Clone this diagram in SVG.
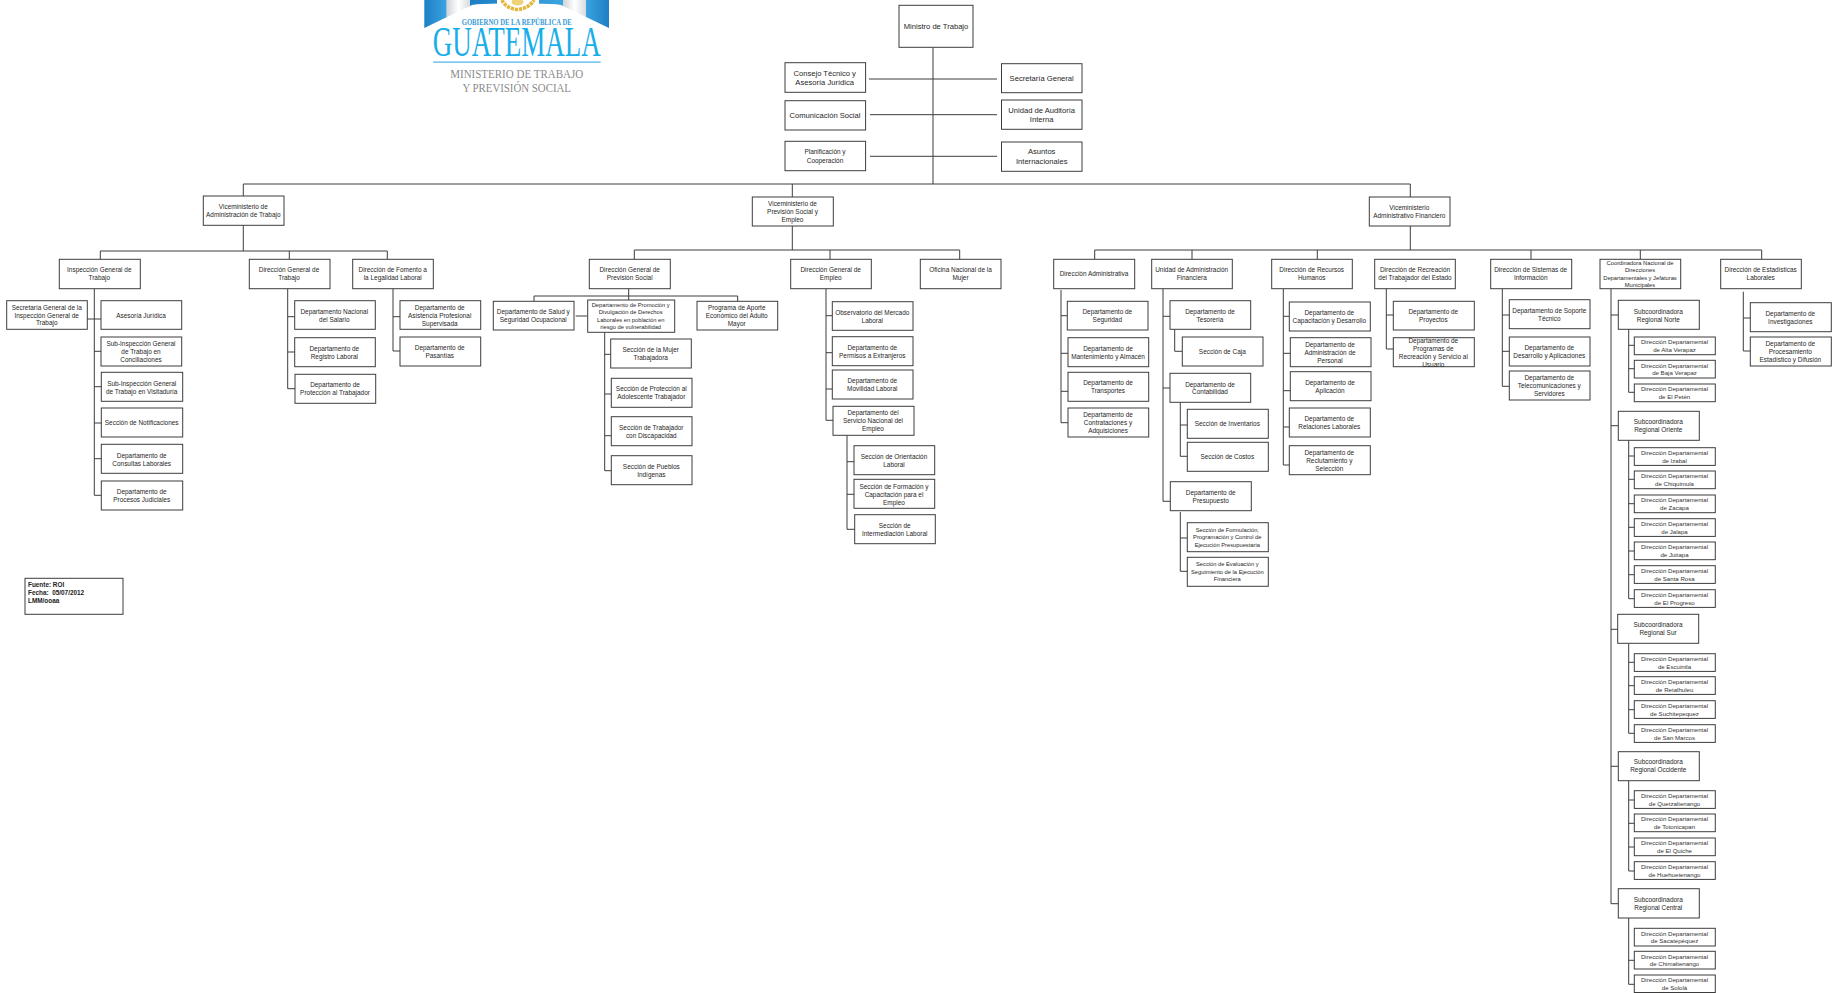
<svg xmlns="http://www.w3.org/2000/svg" width="1834" height="993" viewBox="0 0 1834 993">
<style>
text{font-family:"Liberation Sans",Arial,sans-serif;font-size:6.45px;fill:#262626;text-anchor:middle}
rect.b{fill:#fff;stroke:#3c3c3c;stroke-width:1}
.l7 text,text.l7{font-size:7.6px}
text.s{font-size:5.75px}
text.d{font-size:6.1px;fill:#333}
text.f{font-size:6.4px;font-weight:bold;text-anchor:start;fill:#222}
#connectors path{fill:none;stroke:#3c3c3c;stroke-width:1}
#logo text{font-family:"Liberation Serif","Times New Roman",serif}
</style>
<defs>
<linearGradient id="bl" x1="0" x2="1" y1="0" y2="0"><stop offset="0" stop-color="#1e7fc4"/><stop offset="1" stop-color="#3aa3e0"/></linearGradient>
<linearGradient id="br" x1="1" x2="0" y1="0" y2="0"><stop offset="0" stop-color="#1e7fc4"/><stop offset="1" stop-color="#3aa3e0"/></linearGradient>
<linearGradient id="wl" x1="0" x2="1" y1="0" y2="0"><stop offset="0" stop-color="#cfd3d8"/><stop offset=".5" stop-color="#ffffff"/><stop offset="1" stop-color="#d8dbdf"/></linearGradient>
</defs>
<g id="logo">
<rect x="424.3" y="0" width="22.4" height="28" fill="url(#bl)"/>
<rect x="446.7" y="0" width="23.3" height="28" fill="url(#wl)"/>
<rect x="470" y="0" width="93" height="28" fill="url(#bl)"/>
<rect x="563" y="0" width="23" height="28" fill="url(#wl)"/>
<rect x="586" y="0" width="23" height="28" fill="url(#br)"/>
<path d="M424.3 27.9L472 5Q480 3.5 500 3.5L533 3.5Q553 3.5 561 5L609 27.9L609 30L424.3 30Z" fill="#fff"/>
<rect x="497" y="0" width="42" height="6" fill="#fff"/>
<path d="M502 0C504 5 510 9 517.5 9.5C525 9 531 5 534 0" fill="none" stroke="#e3b63c" stroke-width="3.6" stroke-dasharray="3.2 .9"/>
<ellipse cx="517.5" cy="2" rx="6" ry="3.6" fill="#efd27a"/>
<text x="516.7" y="25.3" textLength="110" lengthAdjust="spacingAndGlyphs" style="font-size:7.6px;font-weight:bold;fill:#3a9bd6">GOBIERNO DE LA REPÚBLICA DE</text>
<text x="516.7" y="55.5" textLength="168" lengthAdjust="spacingAndGlyphs" style="font-size:43px;fill:#18aeea">GUATEMALA</text>
<rect x="433" y="61.5" width="167.7" height="1.2" fill="#48b4e6"/>
<text x="516.7" y="78.3" textLength="133" lengthAdjust="spacingAndGlyphs" style="font-size:13.5px;fill:#8c8c8c">MINISTERIO DE TRABAJO</text>
<text x="516.7" y="91.7" textLength="108.6" lengthAdjust="spacingAndGlyphs" style="font-size:13.5px;fill:#8c8c8c">Y PREVISIÓN SOCIAL</text>
</g>
<g id="connectors">
<path d="M933 47.3V184M869 79H997M870 114.7H997M870 156.3H997M243.3 184H1410.3M243.3 184V196M792.3 184V197M1410.3 184V197"/>
<path d="M243.3 225.3V251M100.3 251H387.3M100.3 251V259.3M289.3 251V259.3M387.3 251V259.3"/>
<path d="M94.3 288.7V495.3H101M85.7 319H103M94.3 351.3H101M94.3 386.7H101.3M94.3 423H101.3M94.3 458.7H101.3"/>
<path d="M287.7 288.7V388.7H295M287.7 316.7H294.7M287.7 352H294.7"/>
<path d="M393 288.7V351H400M393 316.7H400"/>
<path d="M792.3 226V250M634.3 250H959.7M634.3 250V259.3M830 250V259.3M959.7 250V259.3"/>
<path d="M628.7 288.7V300M534 296H737.7M534 296V301.3M737.7 296V301.3M575.7 316H587.7"/>
<path d="M604.7 332.3V470.7H611.3M604.7 354.3H610.7M604.7 394H611.3M604.7 435.7H611.3"/>
<path d="M826 288.7V420.3H833M826 315.7H832.3M826 352.7H832.3M826 389H832.3"/>
<path d="M847 435.3V529.3H854.7M847 461.7H854M847 494.3H854"/>
<path d="M1410.3 226V250M1094.7 250H1761.7M1094.7 250V259.3M1192 250V259.3M1317.3 250V259.3M1531 250V259.3M1640.3 250V259.3M1761.7 250V259.3"/>
<path d="M1061 290V422.7H1068M1061 315.7H1067.3M1061 353.3H1068M1061 391.3H1068"/>
<path d="M1163 288.7V501.3H1170.3M1163 316.3H1170M1163 388H1170"/>
<path d="M1174.7 329.3V351.3H1182.3"/>
<path d="M1180.3 402.3V456.3H1187.3M1180.3 425H1187.3"/>
<path d="M1180.3 512V571.3H1187.3M1180.3 538H1187.3"/>
<path d="M1283.3 288.7V465H1289.3M1283.3 316.3H1289.3M1283.3 353.3H1290.3M1283.3 390.7H1290.3M1283.3 427H1289.3"/>
<path d="M1386.3 286.7V349H1393.3M1386.3 315H1393.3"/>
<path d="M1502.3 288.7V386.3H1509.3M1502.3 315H1509.3M1502.3 351.3H1509.3"/>
<path d="M1743.3 291.7V351H1750.3M1743.3 318H1750.3"/>
<path d="M1611 288.7V903.7H1618.3M1611 315H1618.3M1611 425.7H1618.3M1611 629.3H1617.7M1611 766.3H1618.3"/>
<path d="M1628.7 329.3V392.3H1634.3M1628.7 345.3H1634.3M1628.7 368.7H1634.3"/>
<path d="M1628.7 440.3V598.7H1634.3M1628.7 456H1634.3M1628.7 479.3H1634.3M1628.7 503.7H1634.3M1628.7 527.3H1634.3M1628.7 551H1634.3M1628.7 574.7H1634.3"/>
<path d="M1628.7 643.3V733.3H1634.3M1628.7 662.3H1634.3M1628.7 685.7H1634.3M1628.7 709.7H1634.3"/>
<path d="M1628.7 780.7V871H1634.3M1628.7 800H1634.3M1628.7 823.3H1634.3M1628.7 847H1634.3"/>
<path d="M1628.7 918V984.3H1634.3M1628.7 960.3H1634.3"/>
</g>
<g id="ministro" class="l7"><rect class="b" x="899" y="5.3" width="74" height="42"/><text x="936" y="28.7">Ministro de Trabajo</text></g>
<g id="consejo" class="l7"><rect class="b" x="785" y="62.7" width="80.6" height="29.6"/><text x="824.7" y="75.7">Consejo Técnico y<tspan x="824.7" dy="9">Asesoría Jurídica</tspan></text></g>
<g id="secretaria" class="l7"><rect class="b" x="1001.5" y="63.7" width="80.5" height="29"/><text x="1041.7" y="80.7">Secretaría General</text></g>
<g id="comunicacion" class="l7"><rect class="b" x="785" y="100.7" width="80.6" height="29.3"/><text x="825" y="117.7">Comunicación Social</text></g>
<g id="auditoria" class="l7"><rect class="b" x="1001.5" y="100" width="80.5" height="29.3"/><text x="1041.7" y="112.7">Unidad de Auditoría<tspan x="1041.7" dy="9.3">Interna</tspan></text></g>
<g id="planificacion"><rect class="b" x="785" y="141.3" width="80.6" height="29.4"/><text x="825" y="154.3">Planificación y<tspan x="825" dy="8.3">Cooperación</tspan></text></g>
<g id="asuntos" class="l7"><rect class="b" x="1001.5" y="142" width="80.5" height="29.3"/><text x="1041.7" y="154.4">Asuntos<tspan x="1041.7" dy="9.3">Internacionales</tspan></text></g>

<g id="vice-admin"><rect class="b" x="203.3" y="196" width="80.7" height="29.3"/><text x="243.3" y="209.3">Viceministerio de<tspan x="243.3" dy="8">Administración de Trabajo</tspan></text></g>
<g id="vice-prev"><rect class="b" x="752.3" y="197" width="81" height="29"/><text x="792.5" y="206">Viceministerio de<tspan x="792.5" dy="8">Previsión Social y</tspan><tspan x="792.5" dy="8">Empleo</tspan></text></g>
<g id="vice-fin"><rect class="b" x="1369.3" y="197" width="80.7" height="29"/><text x="1409.3" y="210">Viceministerio<tspan x="1409.3" dy="8">Administrativo Financiero</tspan></text></g>

<g id="inspeccion"><rect class="b" x="59.3" y="259.3" width="81" height="29.4"/><text x="99.3" y="272.3">Inspección General de<tspan x="99.3" dy="8">Trabajo</tspan></text></g>
<g id="dg-trabajo"><rect class="b" x="249.3" y="259.3" width="80.7" height="29.4"/><text x="289" y="272.3">Dirección General de<tspan x="289" dy="8">Trabajo</tspan></text></g>
<g id="fomento"><rect class="b" x="352.7" y="259.3" width="80.6" height="29.4"/><text x="392.7" y="272.3">Dirección de Fomento a<tspan x="392.7" dy="8">la Legalidad Laboral</tspan></text></g>
<g id="sec-insp"><rect class="b" x="6.7" y="300.7" width="80.6" height="28.6"/><text x="46.7" y="309.6">Secretaría General de la<tspan x="46.7" dy="8">Inspección General de</tspan><tspan x="46.7" dy="7.8">Trabajo</tspan></text></g>
<g id="asesoria"><rect class="b" x="101" y="300.7" width="80.7" height="28.6"/><text x="141" y="317.6">Asesoría Jurídica</text></g>
<g id="sub-conc"><rect class="b" x="101" y="337" width="80.7" height="29"/><text x="141" y="346">Sub-Inspección General<tspan x="141" dy="8">de Trabajo en</tspan><tspan x="141" dy="8">Conciliaciones</tspan></text></g>
<g id="sub-visit"><rect class="b" x="101.3" y="372.3" width="81.4" height="29"/><text x="141.7" y="385.6">Sub-Inspección General<tspan x="141.7" dy="8">de Trabajo en Visitaduría</tspan></text></g>
<g id="notif"><rect class="b" x="101.3" y="408" width="81.4" height="29"/><text x="141.7" y="425">Sección de Notificaciones</text></g>
<g id="consultas"><rect class="b" x="101.3" y="444.3" width="81.4" height="29"/><text x="141.7" y="457.6">Departamento de<tspan x="141.7" dy="8">Consultas Laborales</tspan></text></g>
<g id="procesos"><rect class="b" x="101.3" y="481" width="81.4" height="29"/><text x="141.7" y="494">Departamento de<tspan x="141.7" dy="8">Procesos Judiciales</tspan></text></g>
<g id="salario"><rect class="b" x="294.7" y="300.7" width="80.6" height="28.6"/><text x="334.3" y="313.6">Departamento Nacional<tspan x="334.3" dy="8">del Salario</tspan></text></g>
<g id="registro"><rect class="b" x="294.7" y="337.7" width="80.6" height="29"/><text x="334.3" y="350.6">Departamento de<tspan x="334.3" dy="8">Registro Laboral</tspan></text></g>
<g id="proteccion"><rect class="b" x="295" y="374.3" width="80.7" height="29"/><text x="335" y="387.3">Departamento de<tspan x="335" dy="8">Protección al Trabajador</tspan></text></g>
<g id="asistencia"><rect class="b" x="400" y="300.7" width="80.7" height="28.6"/><text x="439.7" y="309.6">Departamento de<tspan x="439.7" dy="8">Asistencia Profesional</tspan><tspan x="439.7" dy="8">Supervisada</tspan></text></g>
<g id="pasantias"><rect class="b" x="400" y="337" width="80.7" height="29"/><text x="439.7" y="350">Departamento de<tspan x="439.7" dy="8">Pasantías</tspan></text></g>
<g id="fuente"><rect class="b" x="25" y="578.3" width="98" height="36"/><text class="f" x="28" y="586.7">Fuente: ROI</text><text class="f" x="28" y="594.7" xml:space="preserve">Fecha:  05/07/2012</text><text class="f" x="28" y="602.7">LMM/ooaa</text></g>

<g id="dg-prev"><rect class="b" x="589.3" y="259.3" width="81" height="29.4"/><text x="629.7" y="272.3">Dirección General de<tspan x="629.7" dy="8">Previsión Social</tspan></text></g>
<g id="dg-empleo"><rect class="b" x="790.7" y="259.3" width="80.6" height="29.4"/><text x="830.7" y="272.3">Dirección General de<tspan x="830.7" dy="8">Empleo</tspan></text></g>
<g id="of-mujer"><rect class="b" x="920.3" y="259.3" width="80.7" height="29.4"/><text x="960.5" y="272.3">Oficina Nacional de la<tspan x="960.5" dy="8">Mujer</tspan></text></g>
<g id="salud"><rect class="b" x="493.3" y="301.3" width="80.7" height="28.7"/><text x="533.3" y="314.3">Departamento de Salud y<tspan x="533.3" dy="8">Seguridad Ocupacional</tspan></text></g>
<g id="promocion"><rect class="b" x="587.7" y="300" width="87" height="32.3"/><text class="s" x="630.7" y="307.1">Departamento de Promoción y<tspan x="630.7" dy="7.3">Divulgación de Derechos</tspan><tspan x="630.7" dy="7.4">Laborales en población en</tspan><tspan x="630.7" dy="7.3">riesgo de vulnerabilidad</tspan></text></g>
<g id="programa"><rect class="b" x="697" y="301.3" width="80.7" height="28.7"/><text x="736.7" y="310">Programa de Aporte<tspan x="736.7" dy="8">Económico del Adulto</tspan><tspan x="736.7" dy="8">Mayor</tspan></text></g>
<g id="mujer-trab"><rect class="b" x="610.7" y="339" width="80.6" height="29"/><text x="650.7" y="352">Sección de la Mujer<tspan x="650.7" dy="8">Trabajadora</tspan></text></g>
<g id="adolescente"><rect class="b" x="611.3" y="378.3" width="80.7" height="29"/><text x="651.3" y="391">Sección de Protección al<tspan x="651.3" dy="8">Adolescente Trabajador</tspan></text></g>
<g id="discapacidad"><rect class="b" x="611.3" y="416.7" width="80.7" height="29"/><text x="651.3" y="429.6">Sección de Trabajador<tspan x="651.3" dy="8">con Discapacidad</tspan></text></g>
<g id="pueblos"><rect class="b" x="611.3" y="455.7" width="80.7" height="29"/><text x="651.3" y="468.6">Sección de Pueblos<tspan x="651.3" dy="8">Indígenas</tspan></text></g>
<g id="observatorio"><rect class="b" x="832.3" y="301.7" width="80.7" height="28.6"/><text x="872.3" y="314.6">Observatorio del Mercado<tspan x="872.3" dy="8">Laboral</tspan></text></g>
<g id="permisos"><rect class="b" x="832.3" y="336.7" width="80.7" height="29"/><text x="872.3" y="349.6">Departamento de<tspan x="872.3" dy="8">Permisos a Extranjeros</tspan></text></g>
<g id="movilidad"><rect class="b" x="832.3" y="370" width="80.7" height="29"/><text x="872.3" y="383">Departamento de<tspan x="872.3" dy="8">Movilidad Laboral</tspan></text></g>
<g id="serv-nac"><rect class="b" x="833" y="406.3" width="81" height="29"/><text x="873" y="415.3">Departamento del<tspan x="873" dy="8">Servicio Nacional del</tspan><tspan x="873" dy="8">Empleo</tspan></text></g>
<g id="orientacion"><rect class="b" x="854" y="445.7" width="80.7" height="29"/><text x="894" y="458.6">Sección de Orientación<tspan x="894" dy="8">Laboral</tspan></text></g>
<g id="formacion"><rect class="b" x="854" y="479.3" width="80.7" height="29"/><text x="894" y="488.6">Sección de Formación y<tspan x="894" dy="8">Capacitación para el</tspan><tspan x="894" dy="8">Empleo</tspan></text></g>
<g id="intermediacion"><rect class="b" x="854.7" y="514.7" width="80.6" height="29"/><text x="894.7" y="527.6">Sección de<tspan x="894.7" dy="8">Intermediación Laboral</tspan></text></g>

<g id="dir-admin"><rect class="b" x="1053.7" y="259.3" width="81" height="29.4"/><text x="1094" y="276.3">Dirección Administrativa</text></g>
<g id="uaf"><rect class="b" x="1151.7" y="259.3" width="80.6" height="29.4"/><text x="1191.7" y="272.3">Unidad de Administración<tspan x="1191.7" dy="8">Financiera</tspan></text></g>
<g id="rrhh"><rect class="b" x="1271.7" y="259.3" width="80.6" height="29.4"/><text x="1311.7" y="272.3">Dirección de Recursos<tspan x="1311.7" dy="8">Humanos</tspan></text></g>
<g id="recreacion"><rect class="b" x="1374.7" y="259.3" width="80.6" height="29.4"/><text x="1415" y="272.3">Dirección de Recreación<tspan x="1415" dy="8">del Trabajador del Estado</tspan></text></g>
<g id="seguridad"><rect class="b" x="1067.3" y="301.3" width="80.7" height="28.7"/><text x="1107.3" y="314.3">Departamento de<tspan x="1107.3" dy="8">Seguridad</tspan></text></g>
<g id="mantenimiento"><rect class="b" x="1068" y="337.7" width="80.7" height="29"/><text x="1108" y="350.6">Departamento de<tspan x="1108" dy="8">Mantenimiento y Almacén</tspan></text></g>
<g id="transportes"><rect class="b" x="1068" y="372.3" width="80.7" height="29"/><text x="1108" y="385">Departamento de<tspan x="1108" dy="8">Transportes</tspan></text></g>
<g id="contrataciones"><rect class="b" x="1068" y="408" width="80.7" height="29"/><text x="1108" y="417">Departamento de<tspan x="1108" dy="8">Contrataciones y</tspan><tspan x="1108" dy="8">Adquisiciones</tspan></text></g>
<g id="tesoreria"><rect class="b" x="1170" y="300.7" width="80.7" height="28.6"/><text x="1210" y="313.6">Departamento de<tspan x="1210" dy="8">Tesorería</tspan></text></g>
<g id="caja"><rect class="b" x="1182.3" y="337" width="80.7" height="29"/><text x="1222.3" y="353.6">Sección de Caja</text></g>
<g id="contabilidad"><rect class="b" x="1170" y="373.3" width="80.7" height="29"/><text x="1210" y="386.6">Departamento de<tspan x="1210" dy="7.7">Contabilidad</tspan></text></g>
<g id="inventarios"><rect class="b" x="1187.3" y="409.3" width="81" height="29"/><text x="1227.3" y="426.3">Sección de Inventarios</text></g>
<g id="costos"><rect class="b" x="1187.3" y="442.3" width="81" height="29"/><text x="1227.3" y="459.3">Sección de Costos</text></g>
<g id="presupuesto"><rect class="b" x="1170.3" y="481.7" width="81" height="29"/><text x="1210.7" y="494.6">Departamento de<tspan x="1210.7" dy="8">Presupuesto</tspan></text></g>
<g id="sec-formulacion"><rect class="b" x="1187.3" y="522.7" width="81" height="29"/><text class="s" x="1227.3" y="532.1">Sección de Formulación,<tspan x="1227.3" dy="7.3">Programación y Control de</tspan><tspan x="1227.3" dy="7.4">Ejecución Presupuestaria</tspan></text></g>
<g id="sec-evaluacion"><rect class="b" x="1187.3" y="557.3" width="81" height="29"/><text class="s" x="1227.3" y="566.4">Sección de Evaluación y<tspan x="1227.3" dy="7.4">Seguimiento de la Ejecución</tspan><tspan x="1227.3" dy="7.3">Financiera</tspan></text></g>
<g id="capacitacion"><rect class="b" x="1289.3" y="302" width="81" height="29"/><text x="1329.3" y="315">Departamento de<tspan x="1329.3" dy="8">Capacitación y Desarrollo</tspan></text></g>
<g id="administracion"><rect class="b" x="1290.3" y="337.7" width="80.7" height="29"/><text x="1330" y="346.6">Departamento de<tspan x="1330" dy="8">Administración de</tspan><tspan x="1330" dy="8">Personal</tspan></text></g>
<g id="aplicacion"><rect class="b" x="1290.3" y="371.7" width="80.7" height="29"/><text x="1330" y="384.6">Departamento de<tspan x="1330" dy="8">Aplicación</tspan></text></g>
<g id="relaciones"><rect class="b" x="1289.3" y="408" width="81" height="29"/><text x="1329.3" y="421">Departamento de<tspan x="1329.3" dy="8">Relaciones Laborales</tspan></text></g>
<g id="reclutamiento"><rect class="b" x="1289.3" y="445.7" width="81" height="29"/><text x="1329.3" y="455">Departamento de<tspan x="1329.3" dy="8">Reclutamiento y</tspan><tspan x="1329.3" dy="8">Selección</tspan></text></g>
<g id="proyectos"><rect class="b" x="1393.3" y="301.3" width="81" height="28.7"/><text x="1433.3" y="314.3">Departamento de<tspan x="1433.3" dy="8">Proyectos</tspan></text></g>
<g id="programas"><rect class="b" x="1393.3" y="337.7" width="81" height="29"/><text x="1433.3" y="343">Departamento de<tspan x="1433.3" dy="8">Programas de</tspan><tspan x="1433.3" dy="8">Recreación y Servicio al</tspan><tspan x="1433.3" dy="8">Usuario</tspan></text></g>

<g id="sistemas"><rect class="b" x="1490.7" y="259.3" width="81" height="29.4"/><text x="1530.7" y="272.3">Dirección de Sistemas de<tspan x="1530.7" dy="8">Información</tspan></text></g>
<g id="coordinadora"><rect class="b" x="1600" y="259.3" width="80.7" height="29.4"/><text class="s" x="1640" y="264.8">Coordinadora Nacional de<tspan x="1640" dy="7.6">Direcciones</tspan><tspan x="1640" dy="7.4">Departamentales y Jefaturas</tspan><tspan x="1640" dy="7.3">Municipales</tspan></text></g>
<g id="estadisticas"><rect class="b" x="1720.7" y="259.3" width="80.6" height="29.4"/><text x="1760.7" y="272.3">Dirección de Estadísticas<tspan x="1760.7" dy="8">Laborales</tspan></text></g>
<g id="soporte"><rect class="b" x="1509.3" y="299.7" width="80.7" height="29"/><text x="1549.3" y="313.3">Departamento de Soporte<tspan x="1549.3" dy="8">Técnico</tspan></text></g>
<g id="desarrollo"><rect class="b" x="1509.3" y="337" width="80.7" height="29"/><text x="1549.3" y="350">Departamento de<tspan x="1549.3" dy="8">Desarrollo y Aplicaciones</tspan></text></g>
<g id="telecom"><rect class="b" x="1509.3" y="371" width="80.7" height="29"/><text x="1549.3" y="380.3">Departamento de<tspan x="1549.3" dy="8">Telecomunicaciones y</tspan><tspan x="1549.3" dy="8">Servidores</tspan></text></g>
<g id="investigaciones"><rect class="b" x="1750.3" y="302.7" width="81" height="29"/><text x="1790.3" y="315.6">Departamento de<tspan x="1790.3" dy="8">Investigaciones</tspan></text></g>
<g id="procesamiento"><rect class="b" x="1750.3" y="337" width="81" height="29"/><text x="1790.3" y="346">Departamento de<tspan x="1790.3" dy="8">Procesamiento</tspan><tspan x="1790.3" dy="8">Estadístico y Difusión</tspan></text></g>

<g id="sub-norte"><rect class="b" x="1618.3" y="300.3" width="81" height="29"/><text x="1658.3" y="313.6">Subcoordinadora<tspan x="1658.3" dy="8">Regional Norte</tspan></text></g>
<g id="dd-alta"><rect class="b" x="1634.3" y="337" width="81" height="17.7"/><text class="d" x="1674.5" y="344.2">Dirección Departamental<tspan x="1674.5" dy="7.7">de Alta Verapaz</tspan></text></g>
<g id="dd-baja"><rect class="b" x="1634.3" y="360.3" width="81" height="17.7"/><text class="d" x="1674.5" y="367.5">Dirección Departamental<tspan x="1674.5" dy="7.7">de Baja Verapaz</tspan></text></g>
<g id="dd-peten"><rect class="b" x="1634.3" y="384" width="81" height="17.7"/><text class="d" x="1674.5" y="391.2">Dirección Departamental<tspan x="1674.5" dy="7.7">de El Petén</tspan></text></g>
<g id="sub-oriente"><rect class="b" x="1618.3" y="411.3" width="81" height="29"/><text x="1658.3" y="424.3">Subcoordinadora<tspan x="1658.3" dy="8">Regional Oriente</tspan></text></g>
<g id="dd-izabal"><rect class="b" x="1634.3" y="447.7" width="81" height="17.7"/><text class="d" x="1674.5" y="454.9">Dirección Departamental<tspan x="1674.5" dy="7.7">de Izabal</tspan></text></g>
<g id="dd-chiquimula"><rect class="b" x="1634.3" y="471" width="81" height="17.7"/><text class="d" x="1674.5" y="478.2">Dirección Departamental<tspan x="1674.5" dy="7.7">de Chiquimula</tspan></text></g>
<g id="dd-zacapa"><rect class="b" x="1634.3" y="495" width="81" height="17.7"/><text class="d" x="1674.5" y="502.2">Dirección Departamental<tspan x="1674.5" dy="7.7">de Zacapa</tspan></text></g>
<g id="dd-jalapa"><rect class="b" x="1634.3" y="518.7" width="81" height="17.7"/><text class="d" x="1674.5" y="525.9">Dirección Departamental<tspan x="1674.5" dy="7.7">de Jalapa</tspan></text></g>
<g id="dd-jutiapa"><rect class="b" x="1634.3" y="542" width="81" height="17.7"/><text class="d" x="1674.5" y="549.2">Dirección Departamental<tspan x="1674.5" dy="7.7">de Jutiapa</tspan></text></g>
<g id="dd-santa-rosa"><rect class="b" x="1634.3" y="565.7" width="81" height="17.7"/><text class="d" x="1674.5" y="572.9">Dirección Departamental<tspan x="1674.5" dy="7.7">de Santa Rosa</tspan></text></g>
<g id="dd-progreso"><rect class="b" x="1634.3" y="589.7" width="81" height="17.7"/><text class="d" x="1674.5" y="596.9">Dirección Departamental<tspan x="1674.5" dy="7.7">de El Progreso</tspan></text></g>
<g id="sub-sur"><rect class="b" x="1617.7" y="614.3" width="81" height="29"/><text x="1658" y="627.3">Subcoordinadora<tspan x="1658" dy="8">Regional Sur</tspan></text></g>
<g id="dd-escuintla"><rect class="b" x="1634.3" y="653.7" width="81" height="17.7"/><text class="d" x="1674.5" y="660.9">Dirección Departamental<tspan x="1674.5" dy="7.7">de Escuintla</tspan></text></g>
<g id="dd-retalhuleu"><rect class="b" x="1634.3" y="676.7" width="81" height="17.7"/><text class="d" x="1674.5" y="683.9">Dirección Departamental<tspan x="1674.5" dy="7.7">de Retalhuleu</tspan></text></g>
<g id="dd-suchitepequez"><rect class="b" x="1634.3" y="700.7" width="81" height="17.7"/><text class="d" x="1674.5" y="707.9">Dirección Departamental<tspan x="1674.5" dy="7.7">de Suchitepequez</tspan></text></g>
<g id="dd-san-marcos"><rect class="b" x="1634.3" y="724.7" width="81" height="17.7"/><text class="d" x="1674.5" y="731.9">Dirección Departamental<tspan x="1674.5" dy="7.7">de San Marcos</tspan></text></g>
<g id="sub-occidente"><rect class="b" x="1618.3" y="751.7" width="81" height="29"/><text x="1658.3" y="764.3">Subcoordinadora<tspan x="1658.3" dy="8">Regional Occidente</tspan></text></g>
<g id="dd-quetzaltenango"><rect class="b" x="1634.3" y="790.7" width="81" height="17.7"/><text class="d" x="1674.5" y="797.9">Dirección Departamental<tspan x="1674.5" dy="7.7">de Quetzaltenango</tspan></text></g>
<g id="dd-totonicapan"><rect class="b" x="1634.3" y="814" width="81" height="17.7"/><text class="d" x="1674.5" y="821.2">Dirección Departamental<tspan x="1674.5" dy="7.7">de Totonicapan</tspan></text></g>
<g id="dd-quiche"><rect class="b" x="1634.3" y="838" width="81" height="17.7"/><text class="d" x="1674.5" y="845.2">Dirección Departamental<tspan x="1674.5" dy="7.7">de El Quiche</tspan></text></g>
<g id="dd-huehuetenango"><rect class="b" x="1634.3" y="861.7" width="81" height="17.7"/><text class="d" x="1674.5" y="868.9">Dirección Departamental<tspan x="1674.5" dy="7.7">de Huehuetenango</tspan></text></g>
<g id="sub-central"><rect class="b" x="1618.3" y="888.7" width="81" height="29.3"/><text x="1658.3" y="901.6">Subcoordinadora<tspan x="1658.3" dy="8">Regional Central</tspan></text></g>
<g id="dd-sacatepequez"><rect class="b" x="1634.3" y="928.3" width="81" height="17.7"/><text class="d" x="1674.5" y="935.5">Dirección Departamental<tspan x="1674.5" dy="7.7">de Sacatepéquez</tspan></text></g>
<g id="dd-chimaltenango"><rect class="b" x="1634.3" y="951.3" width="81" height="17.7"/><text class="d" x="1674.5" y="958.5">Dirección Departamental<tspan x="1674.5" dy="7.7">de Chimaltenango</tspan></text></g>
<g id="dd-solola"><rect class="b" x="1634.3" y="975" width="81" height="17.5"/><text class="d" x="1674.5" y="982.2">Dirección Departamental<tspan x="1674.5" dy="7.7">de Sololá</tspan></text></g>
</svg>
